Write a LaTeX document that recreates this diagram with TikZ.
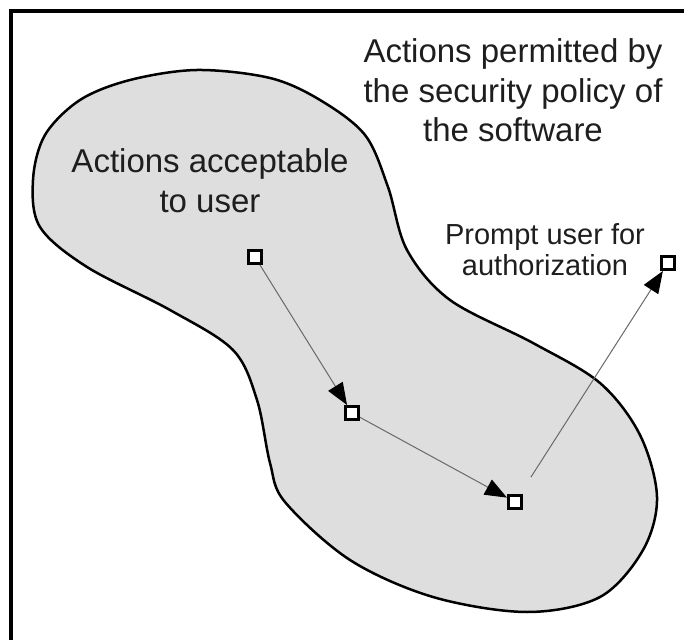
\documentclass[tikz,border=0pt]{standalone}
\usepackage{fontspec}
\setmainfont{Liberation Sans}
\definecolor{blobgray}{RGB}{222, 222, 222}
\definecolor{linkgray}{RGB}{105, 105, 105}
\definecolor{inkgray}{RGB}{30, 30, 30}
\usetikzlibrary{arrows.meta}

\begin{document}
\begin{tikzpicture}[x=0.5pt, y=-0.5pt,
  state/.style={draw=black, fill=white, line width=1.4pt, minimum size=6.6pt, inner sep=0pt},
  link/.style={draw=linkgray, line width=0.5pt, -{Triangle[length=11pt, width=8.5pt, color=black]}},
  note/.style={text=inkgray, align=center, inner sep=0pt, font=\fontsize{16.5}{19.75}\selectfont},
  smallnote/.style={note, font=\fontsize{14.5}{15.5}\selectfont}]
  \useasboundingbox (0,0) rectangle (684,640);

  % Frame
  \draw[line width=1.75pt] (11,640) -- (11,11) -- (684,11);

  % Region of actions acceptable to user
  \draw[fill=blobgray, line width=1.25pt] plot[smooth cycle, tension=0.55] coordinates {
    (197,70) (270,78) (320,100) (365,135) (388,187) (407,250) (450,300)
    (533,343) (600,383) (640,435) (657,497) (643,550) (600,597) (527,612)
    (433,597) (350,560) (285,502) (270,463) (257,400) (233,350) (170,310)
    (87,267) (40,227) (33,180) (45,135) (80,100) (130,80)};

  % Texts
  \node[note] (permitted) at (513, 90.5) {Actions permitted by\\the security policy of\\the software};
  \node[note] (acceptable) at (210, 180.5) {Actions acceptable\\to user};
  \node[smallnote] (prompttext) at (545, 250) {Prompt user for\\authorization};

  % Actions
  \node[state] (start) at (255, 257) {};
  \node[state] (middle) at (352, 413) {};
  \node[state] (inside) at (515, 502) {};
  \node[state] (outside) at (668, 263) {};

  \draw[link] (start) -- (middle);
  \draw[link] (middle) -- (inside);
  \draw[link, shorten <=10pt] (inside) -- (outside);
\end{tikzpicture}
\end{document}
